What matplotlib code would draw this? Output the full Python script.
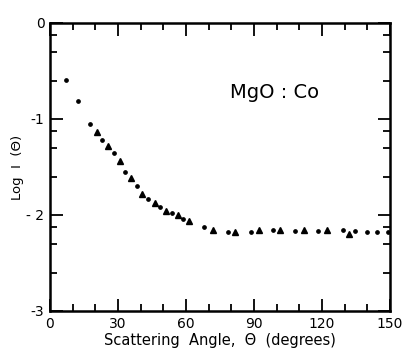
import numpy as np
import matplotlib
matplotlib.use("Agg")
import matplotlib.pyplot as plt
from matplotlib.ticker import FixedLocator

# Data (scattering angle in degrees, log I)
dot_angle = [6.9, 12.5, 17.8, 22.9, 28.1, 33.1, 38.2, 43.3, 48.5, 53.7, 58.8,
             68.1, 78.7, 88.7, 98.5, 108.1, 118.4, 129.1, 134.6, 139.7, 144.1, 149.0]
dot_logI = [-0.59, -0.81, -1.05, -1.22, -1.35, -1.55, -1.70, -1.83, -1.92, -1.98, -2.04,
            -2.13, -2.18, -2.18, -2.16, -2.17, -2.17, -2.16, -2.17, -2.18, -2.18, -2.18]
tri_angle = [20.9, 25.7, 31.0, 35.9, 40.8, 46.2, 51.2, 56.3, 61.5,
             71.8, 81.6, 92.2, 101.5, 112.2, 122.1, 131.9]
tri_logI = [-1.14, -1.28, -1.44, -1.61, -1.78, -1.88, -1.96, -2.00, -2.06,
            -2.16, -2.18, -2.16, -2.16, -2.16, -2.16, -2.20]

x_ticks = [0, 30, 60, 90, 120, 150]
x_ticklabels = ["0", "30", "60", "90", "120", "150"]
y_ticks = [0, -1, -2, -3]
y_ticklabels = ["0", "-1", "- 2", "-3"]

fig = plt.figure(figsize=(4.06, 3.53), dpi=100)
ax = fig.add_axes([50/406, 1-311/353, 340/406, 288/353])

ax.plot(dot_angle, dot_logI, linestyle="none", marker="o", markersize=2.4,
        color="black")
ax.plot(tri_angle, tri_logI, linestyle="none", marker="^", markersize=4.6,
        color="black")

ax.set_xlim(0, 150)
ax.set_ylim(-3, 0)

ax.set_xticks(x_ticks)
ax.set_xticklabels(x_ticklabels, fontsize=10)
ax.xaxis.set_minor_locator(FixedLocator(np.arange(0, 151, 10)))

ax.set_yticks(y_ticks)
ax.set_yticklabels(y_ticklabels, fontsize=10)
minor_y = []
for n in [0, -1, -2]:
    for f in [0.75, 0.5, 0.25]:
        minor_y.append(n + np.log10(f))
ax.yaxis.set_minor_locator(FixedLocator(minor_y))

ax.tick_params(which="both", direction="in", top=True, right=True,
               width=1.3, colors="black")
ax.tick_params(which="major", length=9, pad=4)
ax.tick_params(which="minor", length=5)

for sp in ax.spines.values():
    sp.set_linewidth(1.8)

ax.set_xlabel("Scattering  Angle,  Θ  (degrees)", fontsize=10.5, labelpad=2)
ax.set_ylabel("Log  I  (Θ)", fontsize=9.5, labelpad=2)

ax.text(0.66, 0.76, "MgO : Co", transform=ax.transAxes, fontsize=14,
        ha="center", va="center")

fig.savefig("out.png", dpi=100)
